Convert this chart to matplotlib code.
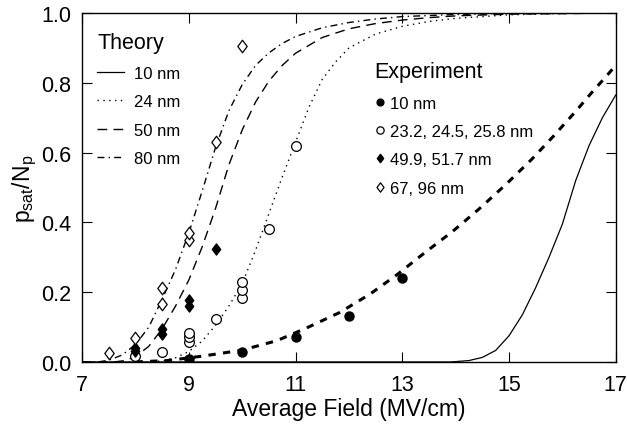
import numpy as np
import matplotlib
matplotlib.use('Agg')
import matplotlib.pyplot as plt
from matplotlib.path import Path

plt.rcParams['font.family'] = ['Liberation Sans', 'DejaVu Sans']

# theory curves
t10_x = [7.0, 13.9, 14.0, 14.25, 14.5, 14.75, 15.0, 15.25, 15.5, 15.75, 16.0, 16.25, 16.5, 16.75, 17.0]
t10_y = [0.0, 0.0, 0.001, 0.004, 0.013, 0.033, 0.075, 0.135, 0.213, 0.30, 0.395, 0.52, 0.62, 0.70, 0.765]

t24_x = [7.0, 8.3, 8.5, 8.75, 9.0, 9.25, 9.5, 9.75, 10.0, 10.25, 10.5, 10.75, 11.0, 11.25, 11.5, 11.75, 12.0, 12.5, 13.0, 13.5, 14.0, 15.0, 16.0, 17.0]
t24_y = [0.0, 0.0, 0.003, 0.012, 0.03, 0.06, 0.105, 0.16, 0.225, 0.32, 0.425, 0.53, 0.63, 0.73, 0.81, 0.86, 0.90, 0.94, 0.962, 0.976, 0.985, 0.995, 0.999, 1.0]

t50_x = [7.0, 7.6, 7.8, 8.0, 8.25, 8.5, 8.75, 9.0, 9.25, 9.5, 9.75, 10.0, 10.25, 10.5, 10.75, 11.0, 11.5, 12.0, 12.5, 13.0, 13.5, 14.0, 15.0, 17.0]
t50_y = [0.0, 0.0, 0.004, 0.015, 0.045, 0.095, 0.16, 0.235, 0.33, 0.44, 0.565, 0.665, 0.745, 0.805, 0.85, 0.885, 0.93, 0.955, 0.97, 0.98, 0.987, 0.992, 0.997, 1.0]

t80_x = [7.0, 7.3, 7.5, 7.75, 8.0, 8.25, 8.5, 8.75, 9.0, 9.25, 9.5, 9.75, 10.0, 10.25, 10.5, 10.75, 11.0, 11.5, 12.0, 12.5, 13.0, 14.0, 15.0, 17.0]
t80_y = [0.0, 0.0, 0.005, 0.02, 0.05, 0.10, 0.18, 0.265, 0.37, 0.49, 0.615, 0.72, 0.795, 0.85, 0.886, 0.913, 0.933, 0.958, 0.973, 0.983, 0.99, 0.996, 0.999, 1.0]

# fit through the 10 nm experiment
fit_x = [8.0, 8.6, 9.27, 10.0, 10.65, 11.2, 11.83, 12.4, 12.9, 13.42, 13.95, 14.45, 14.95, 15.42, 15.82, 16.26, 16.51, 16.8, 17.0]
fit_y = [0.0, 0.004, 0.017, 0.034, 0.061, 0.097, 0.142, 0.195, 0.25, 0.313, 0.375, 0.44, 0.51, 0.58, 0.645, 0.72, 0.765, 0.815, 0.85]

# experiment points
e10_x = [9.0, 10.0, 11.0, 12.0, 13.0]
e10_y = [0.009, 0.028, 0.071, 0.133, 0.24]

e24_x = [8.0, 8.5, 9.0, 9.0, 9.0, 9.5, 10.0, 10.0, 10.0, 10.5, 11.0]
e24_y = [0.018, 0.028, 0.056, 0.071, 0.083, 0.123, 0.183, 0.207, 0.23, 0.381, 0.62]

e50_x = [8.0, 8.0, 8.5, 8.5, 9.0, 9.0, 9.5]
e50_y = [0.03, 0.04, 0.08, 0.095, 0.161, 0.179, 0.324]

e80_x = [7.5, 8.0, 8.5, 8.5, 9.0, 9.0, 9.5, 10.0]
e80_y = [0.025, 0.069, 0.166, 0.211, 0.35, 0.37, 0.63, 0.906]

diamond = Path([(0, 1), (0.75, 0), (0, -1), (-0.75, 0), (0, 1)],
               [Path.MOVETO, Path.LINETO, Path.LINETO, Path.LINETO, Path.CLOSEPOLY])

fig = plt.figure(figsize=(6.27, 4.27), dpi=100)
ax = fig.add_axes([0.131, 0.150, 0.851, 0.817])

l1, = ax.plot(t10_x, t10_y, '-', color='black', lw=0.9)
l2, = ax.plot(t24_x, t24_y, color='black', lw=1.0, linestyle=(0, (1, 3.2)))
l3, = ax.plot(t50_x, t50_y, color='black', lw=1.0, linestyle=(0, (7, 4.5)))
l4, = ax.plot(t80_x, t80_y, color='black', lw=1.0, linestyle=(0, (5, 3, 1, 3)))
ax.plot(fit_x, fit_y, color='black', lw=2.2, linestyle=(0, (2.4, 2.4)))

m1, = ax.plot(e10_x, e10_y, 'o', color='black', ms=6.5, ls='none')
m2, = ax.plot(e24_x, e24_y, 'o', mfc='white', mec='black', mew=0.9, ms=7, ls='none')
m3, = ax.plot(e50_x, e50_y, marker=diamond, color='black', ms=8, ls='none')
m4, = ax.plot(e80_x, e80_y, marker=diamond, mfc='white', mec='black', mew=0.9, ms=9, ls='none')

ax.set_xlim(7, 17)
ax.set_ylim(0, 1.0)
ax.set_xticks([7, 9, 11, 13, 15, 17])
ax.set_yticks([0.0, 0.2, 0.4, 0.6, 0.8, 1.0])
ax.set_yticklabels(['0.0', '0.2', '0.4', '0.6', '0.8', '1.0'])
ax.tick_params(direction='in', top=True, right=True, length=7, width=0.8, labelsize=15.5)
ax.tick_params(axis='x', pad=9)
ax.tick_params(axis='y', pad=8)
for s in ax.spines.values():
    s.set_linewidth(1.0)

ax.set_xlabel('Average Field (MV/cm)', fontsize=16.5, labelpad=1)
ax.set_ylabel('p$_{\\mathregular{sat}}$/N$_{\\mathregular{p}}$', fontsize=16.5, labelpad=1)

leg1 = ax.legend([l1, l2, l3, l4], ['10 nm', '24 nm', '50 nm', '80 nm'],
                 title='Theory', loc='upper left', bbox_to_anchor=(0.0, 0.99),
                 frameon=False, fontsize=12, title_fontsize=15.5, handlelength=1.6,
                 handletextpad=0.6, labelspacing=0.8, alignment='left')
ax.add_artist(leg1)
ax.legend([m1, m2, m3, m4], ['10 nm', '23.2, 24.5, 25.8 nm', '49.9, 51.7 nm', '67, 96 nm'],
          title='Experiment', loc='upper left', bbox_to_anchor=(0.52, 0.905),
          frameon=False, fontsize=12, title_fontsize=15.5, handlelength=0.6,
          handletextpad=0.3, labelspacing=0.8, alignment='left', markerscale=0.75)

fig.savefig('out.png', dpi=100)
